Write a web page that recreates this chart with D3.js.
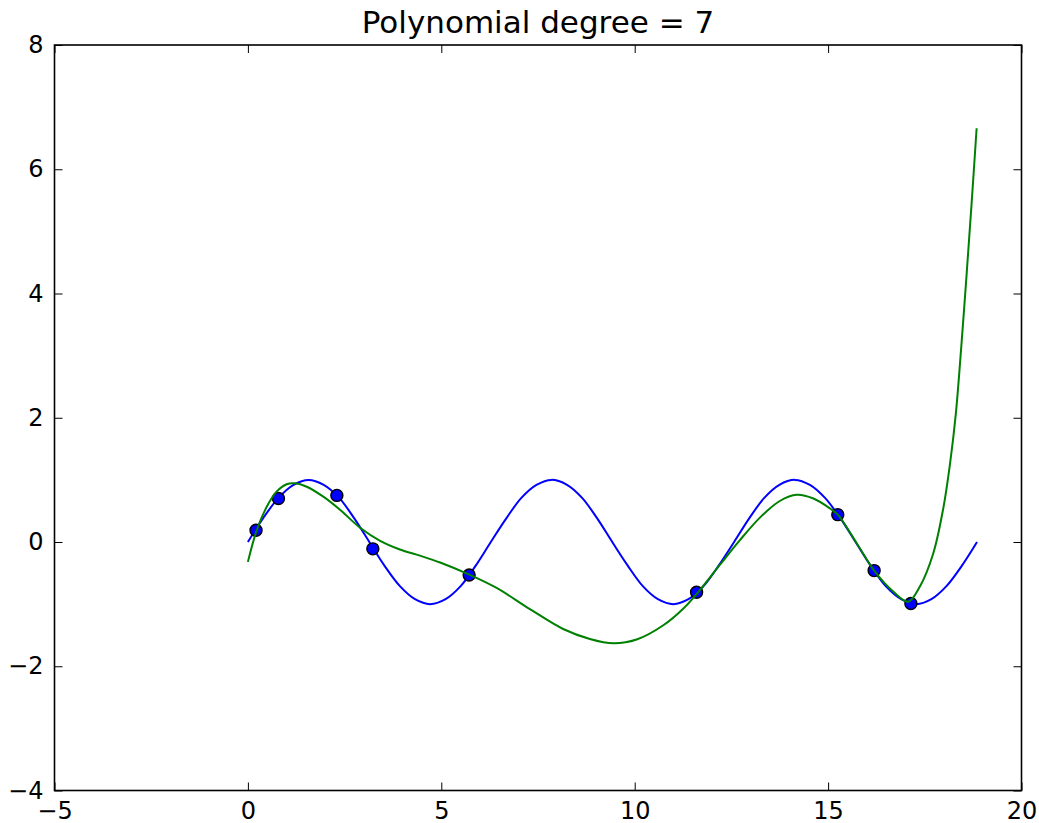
<!DOCTYPE html>
<html>
<head>
<meta charset="utf-8">
<script src="https://cdn.jsdelivr.net/npm/d3@7"></script>
<style>
  body { margin: 0; background: #fff; }
  svg { display: block; }
  text { font-family: "DejaVu Sans", sans-serif; fill: #000; }
</style>
</head>
<body>
<svg id="chart" width="1039" height="823"></svg>
<script>
// ---- data ----
var titleText = 'Polynomial degree = 7';
var xTicks = [-5, 0, 5, 10, 15, 20];
var yTicks = [-4, -2, 0, 2, 4, 6, 8];

// blue curve (ground truth)
var trueX = [0, 0.39, 0.79, 1.18, 1.57, 1.96, 2.36, 2.75, 3.14, 3.53, 3.93, 4.32, 4.71, 5.11, 5.50, 5.89,
  6.28, 6.68, 7.07, 7.46, 7.85, 8.25, 8.64, 9.03, 9.42, 9.82, 10.21, 10.60, 11.00, 11.39, 11.78, 12.17,
  12.57, 12.96, 13.35, 13.74, 14.14, 14.53, 14.92, 15.32, 15.71, 16.10, 16.49, 16.89, 17.28, 17.67, 18.06, 18.46, 18.85];
var trueY = [0, 0.38, 0.71, 0.92, 1, 0.92, 0.71, 0.38, 0, -0.38, -0.71, -0.92, -1, -0.92, -0.71, -0.38,
  0, 0.38, 0.71, 0.92, 1, 0.92, 0.71, 0.38, 0, -0.38, -0.71, -0.92, -1, -0.92, -0.71, -0.38,
  0, 0.38, 0.71, 0.92, 1, 0.92, 0.71, 0.38, 0, -0.38, -0.71, -0.92, -1, -0.92, -0.71, -0.38, 0];

// sample points
var sampleX = [0.21, 0.79, 2.30, 3.23, 5.72, 11.60, 15.25, 16.19, 17.14];
var sampleY = [0.19, 0.70, 0.75, -0.11, -0.53, -0.81, 0.44, -0.46, -0.99];

// green curve (degree 7 fit)
var fitX = [0, 0.23, 0.49, 0.74, 1.00, 1.22, 1.52, 1.95, 2.38, 2.90, 3.42, 3.93, 4.45, 4.97, 5.74, 6.43,
  7.29, 8.15, 8.84, 9.45, 10.05, 10.74, 11.26, 11.69, 12.20, 12.72, 13.25, 13.75, 14.19, 14.62, 15.05,
  15.25, 15.74, 16.19, 16.69, 17.07, 17.37, 17.72, 17.98, 18.15, 18.30, 18.45, 18.58, 18.71, 18.84];
var fitY = [-0.32, 0.19, 0.57, 0.81, 0.93, 0.945, 0.89, 0.73, 0.52, 0.23, 0.02, -0.12, -0.22, -0.33, -0.53, -0.74,
  -1.08, -1.40, -1.56, -1.63, -1.57, -1.34, -1.07, -0.77, -0.37, 0.03, 0.40, 0.66, 0.76, 0.70, 0.54,
  0.44, -0.02, -0.46, -0.80, -0.96, -0.72, -0.18, 0.55, 1.25, 2.05, 3.20, 4.30, 5.45, 6.66];

(function() {
  // ---- layout ----
  var m = { left: 54.5, right: 1021.5, top: 45, bottom: 790.5 };
  var svg = d3.select('#chart');

  var x = d3.scaleLinear().domain([-5, 20]).range([m.left, m.right]);
  var y = d3.scaleLinear().domain([-4, 8]).range([m.bottom, m.top]);

  function zip(xs, ys) {
    return xs.map(function(v, i) { return [v, ys[i]]; });
  }

  var line = d3.line()
    .x(function(d) { return x(d[0]); })
    .y(function(d) { return y(d[1]); })
    .curve(d3.curveCatmullRom.alpha(0.5));

  // blue line
  svg.append('path')
    .datum(zip(trueX, trueY))
    .attr('d', line)
    .attr('fill', 'none')
    .attr('stroke', '#0000ff')
    .attr('stroke-width', 2);

  // points
  svg.append('g').selectAll('circle')
    .data(zip(sampleX, sampleY))
    .enter().append('circle')
      .attr('cx', function(d) { return x(d[0]); })
      .attr('cy', function(d) { return y(d[1]); })
      .attr('r', 6)
      .attr('fill', '#0000ff')
      .attr('stroke', '#000')
      .attr('stroke-width', 1.4);

  // green line
  svg.append('path')
    .datum(zip(fitX, fitY))
    .attr('d', line)
    .attr('fill', 'none')
    .attr('stroke', '#008000')
    .attr('stroke-width', 2);

  // axes, ticks pointing inward
  var fmt = d3.format('d');
  function styleAxis(g) {
    g.select('.domain').remove();
    g.selectAll('.tick line').attr('stroke', '#000').attr('stroke-width', 1);
    g.selectAll('.tick text').style('font-size', '24px').style('font-family', '"DejaVu Sans", sans-serif');
  }

  svg.append('g')
    .attr('transform', 'translate(0,' + m.bottom + ')')
    .call(d3.axisBottom(x).tickValues(xTicks).tickFormat(fmt).tickSizeInner(-8).tickSizeOuter(0).tickPadding(11))
    .call(styleAxis);

  svg.append('g')
    .attr('transform', 'translate(0,' + m.top + ')')
    .call(d3.axisTop(x).tickValues(xTicks).tickFormat('').tickSizeInner(-8).tickSizeOuter(0))
    .call(styleAxis);

  svg.append('g')
    .attr('transform', 'translate(' + m.left + ',0)')
    .call(d3.axisLeft(y).tickValues(yTicks).tickFormat(fmt).tickSizeInner(-8).tickSizeOuter(0).tickPadding(11))
    .call(styleAxis);

  svg.append('g')
    .attr('transform', 'translate(' + m.right + ',0)')
    .call(d3.axisRight(y).tickValues(yTicks).tickFormat('').tickSizeInner(-8).tickSizeOuter(0))
    .call(styleAxis);

  // frame
  svg.append('rect')
    .attr('x', m.left).attr('y', m.top)
    .attr('width', m.right - m.left).attr('height', m.bottom - m.top)
    .attr('fill', 'none')
    .attr('stroke', '#000')
    .attr('stroke-width', 1.6);

  // title
  svg.append('text')
    .attr('x', (m.left + m.right) / 2)
    .attr('y', 33)
    .attr('text-anchor', 'middle')
    .style('font-size', '31px')
    .text(titleText);
})();
</script>
</body>
</html>
